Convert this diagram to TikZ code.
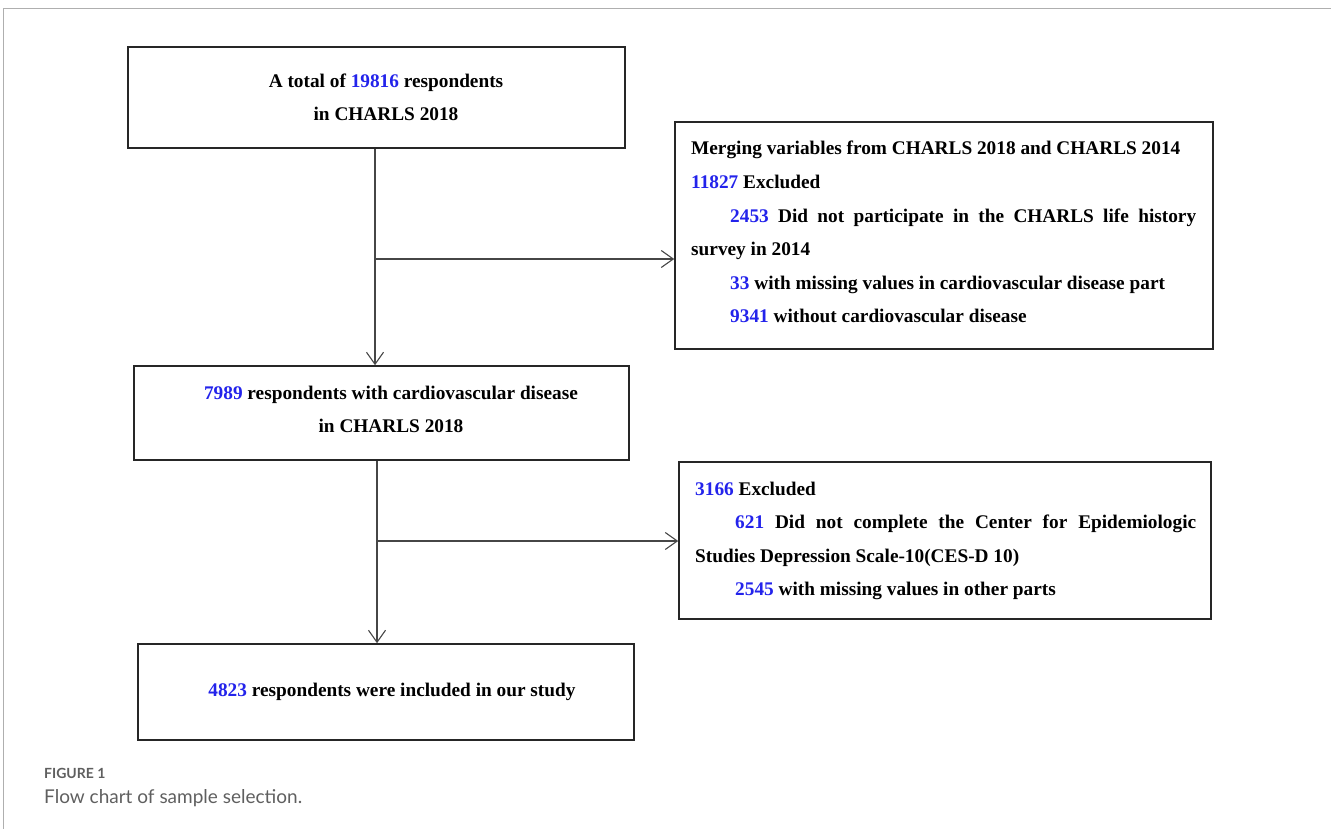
\documentclass[tikz,border=0pt]{standalone}
\usepackage{fontspec}
\setmainfont{Liberation Serif}
\newfontfamily\capfont{Lato}
\usetikzlibrary{arrows.meta}
\definecolor{numblue}{RGB}{35,35,235}
\definecolor{capgray}{RGB}{95,95,95}
\definecolor{framegray}{RGB}{175,175,175}
\definecolor{linegray}{RGB}{70,70,70}
\newcommand{\nb}[1]{\textcolor{numblue}{#1}}
\newcommand{\mainsize}{\fontsize{19.3}{33.6}\selectfont\bfseries}
\tikzset{
  box/.style={draw=black!85, line width=1.6pt, rectangle, inner sep=0pt},
  txt/.style={font=\mainsize, inner sep=0pt, align=center},
  arr/.style={draw=linegray, line width=1.1pt, -{Straight Barb[length=12pt,width=17pt,line width=1.1pt]}},
}
\begin{document}
\begin{tikzpicture}[x=1pt,y=-1pt]
\useasboundingbox (0,0) rectangle (1331,829);
% frame
\draw[framegray, line width=1.6pt] (3.5,829) -- (3.5,8.5) -- (1331,8.5);
% boxes
\node[box, minimum width=497pt, minimum height=101pt] (b1) at (376.5,97.5) {};
\node[box, minimum width=538pt, minimum height=227pt] (b2) at (944,235.5) {};
\node[box, minimum width=495pt, minimum height=94pt] (b3) at (381.5,413) {};
\node[box, minimum width=532pt, minimum height=157pt] (b4) at (945,540.5) {};
\node[box, minimum width=496pt, minimum height=96pt] (b5) at (386,692) {};
% texts
\node[txt] (t1) at (386,97.5) {A total of \nb{19816} respondents\\in CHARLS 2018};
\node[txt] (t3) at (391,409.5) {\nb{7989} respondents with cardiovascular disease\\in CHARLS 2018};
\node[txt] (t5) at (392,692) {\nb{4823} respondents were included in our study};
\node[txt, anchor=base west, align=left] (t2) at (691,155) {%
  \begin{minipage}[t]{505pt}\mainsize\hyphenpenalty=10000\exhyphenpenalty=10000\setlength{\parindent}{39pt}%
  \noindent Merging variables from CHARLS 2018 and CHARLS 2014\par
  \noindent\nb{11827} Excluded\par
  \nb{2453} Did not participate in the CHARLS life history survey in 2014\par
  \nb{33} with missing values in cardiovascular disease part\par
  \nb{9341} without cardiovascular disease\par
  \end{minipage}};
\node[txt, anchor=base west, align=left] (t4) at (695,495) {%
  \begin{minipage}[t]{501pt}\mainsize\hyphenpenalty=10000\exhyphenpenalty=10000\setlength{\parindent}{40pt}%
  \noindent\nb{3166} Excluded\par
  \nb{621} Did not complete the Center for Epidemiologic Studies Depression Scale-10(CES-D 10)\par
  \nb{2545} with missing values in other parts\par
  \end{minipage}};
% connectors
\coordinate (j1) at (375,259);
\coordinate (j2) at (377,541);
\draw[arr] (b1.south -| j1) -- (b3.north -| j1);
\draw[arr] (j1) -- (j1 -| b2.west);
\draw[arr] (b3.south -| j2) -- (b5.north -| j2);
\draw[arr] (j2) -- (j2 -| b4.west);
% caption
\node[anchor=base west, inner sep=0pt, text=capgray, font=\capfont\fontsize{14}{16}\selectfont\bfseries] (cap1) at (44,778) {FIGURE 1};
\node[anchor=base west, inner sep=0pt, text=capgray, font=\capfont\fontsize{19}{22}\selectfont] (cap2) at (44,803) {Flow chart of sample selection.};
\end{tikzpicture}
\end{document}
